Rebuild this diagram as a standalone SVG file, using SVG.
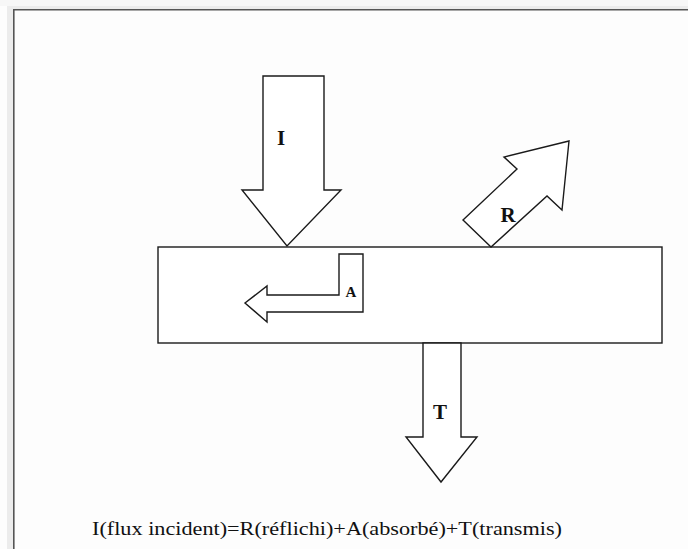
<svg xmlns="http://www.w3.org/2000/svg" width="688" height="549" viewBox="0 0 688 549">
<style>
.sh{fill:#fff;stroke:#1a1a1a;stroke-width:1.4;stroke-linejoin:miter}
.lb{font-family:"Liberation Serif","Times New Roman",serif;font-weight:bold;fill:#111;text-anchor:middle}
.eq{font-family:"Liberation Serif","Times New Roman",serif;fill:#111}
</style>
<rect x="0" y="0" width="688" height="549" fill="#fdfdfd"/>
<rect x="0" y="0" width="688" height="6" fill="#f7f7f7"/>
<rect x="7" y="6" width="681" height="3" fill="#ececec"/>
<rect x="7" y="6" width="6" height="543" fill="#ececec"/>
<line x1="13" y1="9.8" x2="688" y2="9.8" stroke="#555" stroke-width="1.6"/>
<line x1="13.8" y1="9" x2="13.8" y2="549" stroke="#555" stroke-width="1.6"/>
<g id="plate">
<rect class="sh" x="158" y="247" width="504" height="96"/>
</g>
<g id="connectors">
<g id="arrow-I">
<polygon class="sh" points="263,76 324,76 324,190 341,190 287,246 242,190 263,190"/>
<text class="lb" x="281" y="145" font-size="21">I</text>
</g>
<g id="arrow-R">
<polygon class="sh" points="491,247 463,220 517,169 504,157 569,141 562,210 547,196"/>
<text class="lb" x="508" y="222" font-size="21">R</text>
</g>
<g id="arrow-A">
<polygon class="sh" points="339,254 363,254 363,312 267,312 267,322 245,303 267,286 267,295 339,295"/>
<text class="lb" x="351" y="297" font-size="15">A</text>
</g>
<g id="arrow-T">
<polygon class="sh" points="423,343 461,343 461,437 477,437 441,482 406,437 423,437"/>
<text class="lb" x="440" y="419" font-size="21">T</text>
</g>
</g>
<g id="equation">
<text class="eq" x="92" y="535" font-size="19" textLength="470" lengthAdjust="spacingAndGlyphs">I(flux incident)=R(réflichi)+A(absorbé)+T(transmis)</text>
</g>
</svg>
